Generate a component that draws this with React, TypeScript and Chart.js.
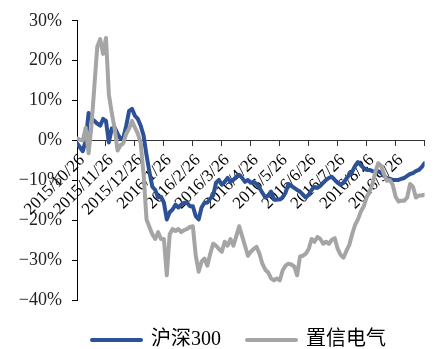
import React, { useEffect, useRef } from 'react';
import { Chart, registerables } from 'chart.js';

Chart.register(...registerables);

const monthLabels = [
  '2015/10/26', '2015/11/26', '2015/12/26', '2016/1/26', '2016/2/26', '2016/3/26',
  '2016/4/26', '2016/5/26', '2016/6/26', '2016/7/26', '2016/8/26', '2016/9/26', '',
];
const seriesNames = ['沪深300', '置信电气'];
const hs300 = [
  -0.7, -1.7, -2.7, 0, 6.9, 5.4, 4.9, 4.2, 3.7, 5.4,
  4.9, -0.5, 3.0, 3.2, 1.7, 0.5, 0.7, 3.7, 7.4, 7.9,
  6.2, 5.4, 3.7, 1.2, -3.7, -7.9, -11.6, -12.4, -14.3, -14.1,
  -15.6, -19.8, -18.0, -17.3, -16.1, -16.8, -16.1, -15.6, -15.6, -16.5,
  -16.5, -19.0, -19.8, -16.8, -15.6, -15.6, -14.6, -13.8, -10.6, -9.9,
  -11.1, -10.4, -9.4, -10.4, -9.9, -9.1, -8.6, -9.4, -10.4, -9.9,
  -10.6, -10.4, -10.9, -11.9, -13.1, -14.3, -13.8, -12.8, -14.8, -14.8,
  -14.8, -14.3, -13.1, -10.9, -11.4, -11.9, -12.4, -12.8, -13.6, -14.3,
  -13.6, -12.4, -11.6, -11.9, -11.4, -10.6, -9.9, -9.4, -9.1, -9.9,
  -10.6, -11.1, -10.6, -9.6, -8.6, -7.9, -6.4, -5.4, -6.2, -6.9,
  -7.4, -7.4, -7.7, -7.9, -7.7, -8.2, -8.9, -9.4, -9.6, -9.9,
  -9.9, -9.9, -9.6, -9.4, -8.9, -8.4, -8.2, -7.7, -7.4, -6.7,
  -5.7,
];
const zhixin = [
  0.5, 0.2, 0, 3.2, -3.2, 3.7, 13.6, 23.5, 25.4, 21.7,
  25.7, 11.6, 6.9, 3.0, -2.5, -1.2, -0.7, 1.7, 3.0, 4.9,
  3.2, 1.7, -0.7, -8.6, -19.8, -21.7, -23.5, -24.7, -23.0, -24.7,
  -24.7, -33.8, -23.5, -22.2, -22.7, -22.2, -23.0, -22.5, -22.2, -21.7,
  -21.5, -28.9, -32.9, -30.4, -29.6, -31.4, -28.4, -25.9, -26.4, -27.2,
  -27.9, -25.4, -26.4, -24.7, -26.4, -24.0, -21.5, -24.0, -26.4, -28.9,
  -27.9, -27.2, -26.7, -28.4, -30.9, -32.4, -33.1, -34.6, -35.1, -34.6,
  -35.1, -32.6, -31.4, -30.9, -31.1, -31.6, -33.8, -29.1, -28.9, -28.4,
  -27.2, -24.7, -25.4, -24.2, -24.7, -25.9, -25.4, -25.9, -24.9, -24.5,
  -27.2, -28.7, -29.4, -27.7, -26.2, -23.5, -21.2, -19.8, -17.8, -16.5,
  -14.3, -12.8, -10.9, -7.9, -5.7, -6.4, -8.4, -10.1, -9.9, -11.1,
  -14.1, -15.3, -15.1, -15.1, -14.3, -10.9, -11.6, -14.3, -13.8, -13.8,
  -13.6,
];
const yMin = -40;
const yMax = 30;
const yStep = 10;
const samplesPerMonth = 10;

const colors = ['#2C5197', '#A5A5A5'];
const FONT = "'Liberation Serif', 'Times New Roman', 'Noto Sans CJK SC', serif";

const legendPlacePlugin = {
  id: 'legendPlace',
  beforeLayout(chart: any) {
    const lg = chart.legend;
    if (lg && !lg._patched) {
      const orig = lg.fit;
      lg.fit = function () {
        orig.call(this);
        this.height = 49;
      };
      lg._patched = true;
    }
  },
  afterLayout(chart: any) {
    const lg = chart.legend;
    if (lg) {
      lg.left += 17;
      lg.right += 17;
      lg.top += 4;
      lg.bottom += 4;
    }
  },
};

export default function App() {
  const ref = useRef<HTMLCanvasElement>(null);
  useEffect(() => {
    if (!ref.current) return;
    const toXY = (arr: number[]) => arr.map((v, i) => ({ x: i, y: v }));
    const chart = new Chart(ref.current, {
      type: 'line',
      data: {
        datasets: [
          {
            label: seriesNames[0],
            data: toXY(hs300),
            borderColor: colors[0],
            backgroundColor: colors[0],
            borderWidth: 4,
            pointRadius: 0,
            tension: 0,
            borderJoinStyle: 'round',
            borderCapStyle: 'round',
            order: 1,
          },
          {
            label: seriesNames[1],
            data: toXY(zhixin),
            borderColor: colors[1],
            backgroundColor: colors[1],
            borderWidth: 4,
            pointRadius: 0,
            tension: 0,
            borderJoinStyle: 'round',
            borderCapStyle: 'round',
            order: 0,
          },
        ],
      },
      options: {
        animation: false,
        responsive: true,
        maintainAspectRatio: false,
        layout: { padding: { left: 7, right: 7, top: 17, bottom: 0 } },
        plugins: {
          tooltip: { enabled: false },
          legend: {
            position: 'bottom',
            labels: {
              usePointStyle: true,
              pointStyleWidth: 49,
              padding: 26,
              color: '#000',
              font: { family: FONT, size: 20 },
              generateLabels: (c: any) =>
                c.data.datasets.map((ds: any, i: number) => ({
                  text: ds.label,
                  fillStyle: ds.borderColor,
                  strokeStyle: ds.borderColor,
                  lineWidth: 4,
                  lineCap: 'round',
                  pointStyle: 'line',
                  hidden: false,
                  datasetIndex: i,
                  fontColor: '#000',
                })),
            },
          },
        },
        scales: {
          x: {
            type: 'linear',
            position: { y: 0 } as any,
            min: 0,
            max: (monthLabels.length - 1) * samplesPerMonth,
            afterBuildTicks: (s: any) => {
              s.ticks = monthLabels.map((_, i) => ({ value: i * samplesPerMonth }));
            },
            grid: { drawOnChartArea: false, drawTicks: true, tickLength: 5, tickColor: '#333' },
            border: { display: true, color: '#333', width: 1 },
            ticks: {
              autoSkip: false,
              minRotation: 45,
              maxRotation: 45,
              padding: 5,
              labelOffset: 5,
              color: '#000',
              font: { family: FONT, size: 17 },
              callback: (v: any) => monthLabels[Math.round(Number(v) / samplesPerMonth)] ?? '',
            },
          },
          y: {
            min: yMin,
            max: yMax,
            afterFit: (s: any) => {
              s.width = 70;
            },
            grid: { drawOnChartArea: false, drawTicks: true, tickLength: 5, tickColor: '#000' },
            border: { display: true, color: '#000', width: 1 },
            ticks: {
              stepSize: yStep,
              padding: 10,
              color: '#222',
              font: { family: FONT, size: 18 },
              callback: (v: any) => (Number(v) < 0 ? '\u2212' : '') + Math.abs(Number(v)) + '%',
            },
          },
        },
      },
      plugins: [legendPlacePlugin as any],
    });
    return () => chart.destroy();
  }, []);
  return (
    <div style={{ position: 'fixed', left: 0, top: 0, width: 444, height: 349, background: '#fff' }}>
      <canvas ref={ref} />
    </div>
  );
}
